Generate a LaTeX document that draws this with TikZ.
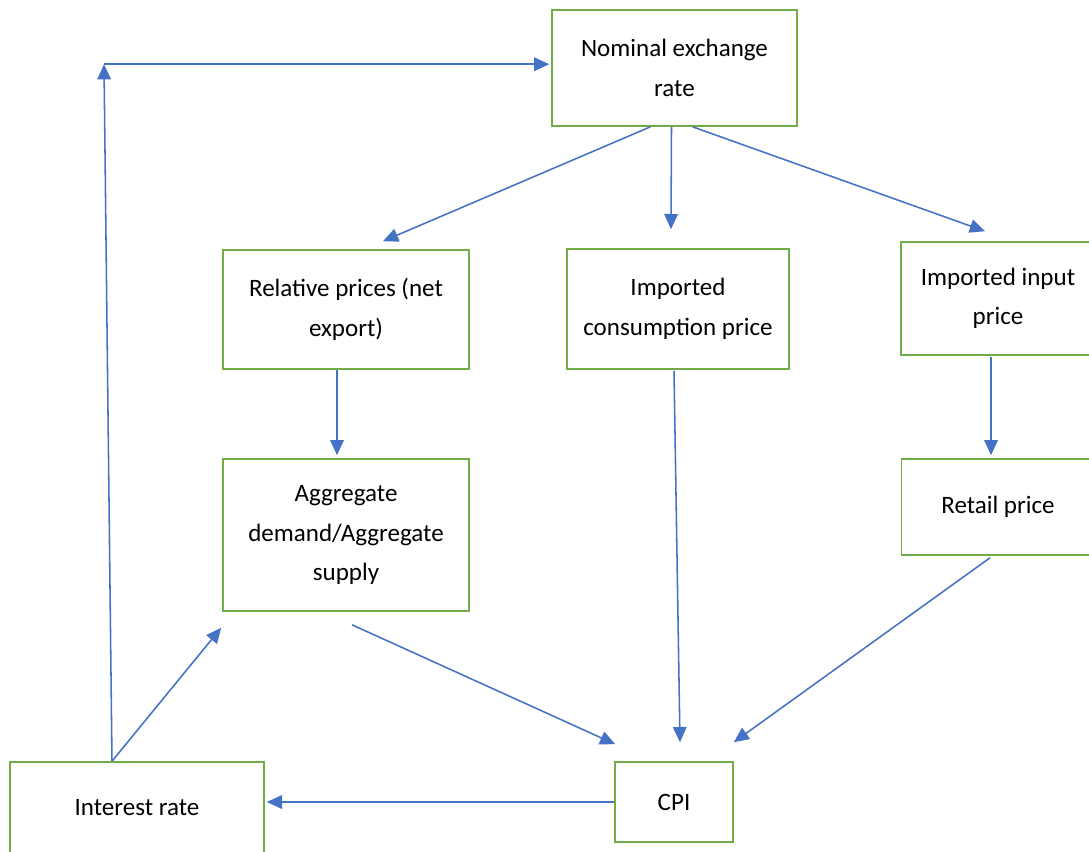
\documentclass[tikz,border=0pt]{standalone}
\usepackage{fontspec}
\setmainfont{Carlito}
\usetikzlibrary{positioning}
\usetikzlibrary{arrows.meta}
\usetikzlibrary{calc}
\definecolor{boxgreen}{HTML}{70AD47}
\definecolor{linkblue}{HTML}{4472C4}

\begin{document}
\begin{tikzpicture}[
    x=0.025cm, y=-0.025cm,
    box/.style={rectangle, draw=boxgreen, line width=1.1pt, fill=white, align=center,
        font=\fontsize{17.8}{28}\selectfont, inner sep=0pt},
    link/.style={-{Triangle[length=0.38cm, width=0.34cm]}, draw=linkblue, line width=1.1pt}
]
\clip (0,0) rectangle (1089,852);
\fill[white] (0,0) rectangle (1089,852);

% Boxes
\node[box, minimum width=6.125cm, minimum height=2.9cm] (nominal) at (674.5,68) {Nominal exchange\\rate};
\node[box, minimum width=6.15cm, minimum height=2.975cm] (relative) at (346,309.5) {Relative prices (net\\export)};
\node[box, minimum width=5.55cm, minimum height=3cm] (impcons) at (678,309) {Imported\\consumption price};
\node[box, minimum width=4.85cm, minimum height=2.825cm] (impinput) at (998,298.5) {Imported input\\price};
\node[box, minimum width=6.15cm, minimum height=3.8cm] (aggregate) at (346,535) {Aggregate\\demand/Aggregate\\supply};
\node[box, minimum width=4.825cm, minimum height=2.4cm] (retail) at (998,507) {Retail price};
\node[box, minimum width=6.35cm, minimum height=2.3cm] (interest) at (137,808) {Interest rate};
\node[box, minimum width=2.95cm, minimum height=2cm] (cpi) at (674,802) {CPI};

% Exchange rate channels
\draw[link] ($(nominal.south)+(-24,0)$) -- ($(relative.north)+(37,-8)$);
\draw[link] ($(nominal.south)+(-3,0)$) -- ($(impcons.north)+(-7,-19)$);
\draw[link] ($(nominal.south)+(18,0)$) -- ($(impinput.north)+(-13,-10)$);
\draw[link] ($(relative.south)+(-9,0)$) -- ($(aggregate.north)+(-9,-3)$);
\draw[link] ($(impinput.south)+(-7,1)$) -- ($(retail.north)+(-7,-3)$);

% Into CPI
\draw[link] ($(aggregate.south)+(6,13)$) -- ($(cpi.north west)+(1,-17)$);
\draw[link] ($(impcons.south)+(-4,1)$) -- ($(cpi.north)+(6,-19)$);
\draw[link] ($(retail.south)+(-8,2)$) -- ($(cpi.north east)+(0,-19)$);

% Policy feedback
\draw[link] (cpi.west) -- ($(cpi.west -| interest.east)+(2,0)$);
\draw[link] ($(interest.north)+(-25,0)$) -- ($(aggregate.south west)+(-1,16)$);
\coordinate (corner) at ($(interest.north)+(-33,-697)$);
\draw[link] ($(interest.north)+(-25,0)$) -- (corner);
\draw[link] (corner) -- ($(corner -| nominal.west)+(-2,0)$);
\end{tikzpicture}
\end{document}
